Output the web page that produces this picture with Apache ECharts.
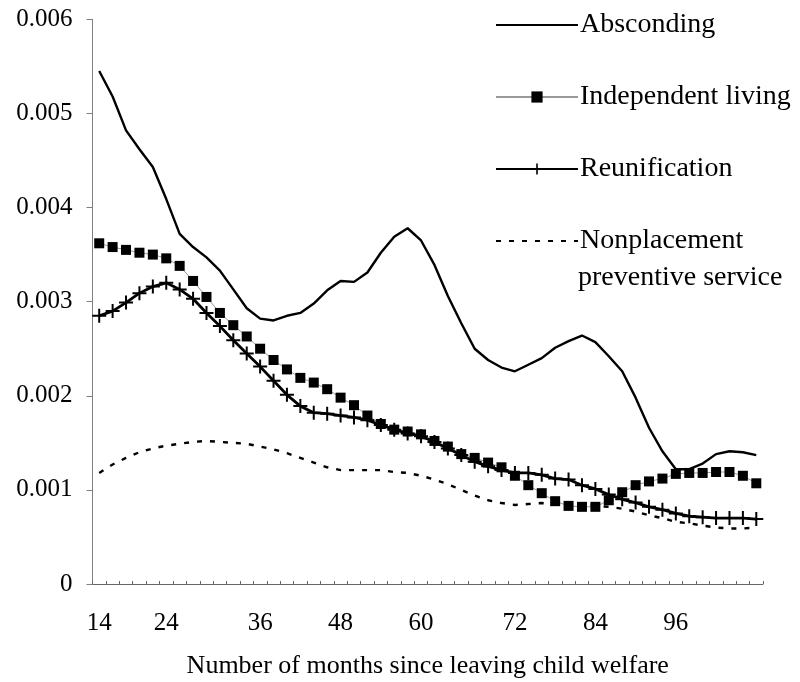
<!DOCTYPE html>
<html>
<head>
<meta charset="utf-8">
<script src="https://cdn.jsdelivr.net/npm/echarts@6/dist/echarts.min.js"></script>
<style>html,body{margin:0;padding:0;background:#fff;}#c{width:800px;height:682px;}</style>
</head>
<body>
<div id="c"></div>
<script>
// x tick labels (one slot per data point; blank = no label)
const xLabels = ['14','','','','','24','','','','','','','36','','','','','','48','','','','','','60','','','','','','','72','','','','','','84','','','','','','96','','','','','',''];
const categories = xLabels.map((_, i) => 'p' + i);

const absconding = [0.00545,0.00518,0.00482,0.00462,0.00443,0.00409,0.00372,0.00358,0.00347,0.00333,
  0.00313,0.00293,0.00282,0.00280,0.00285,0.00288,0.00298,0.00312,0.00322,0.00321,
  0.00331,0.00352,0.00369,0.00378,0.00365,0.00339,0.00306,0.00277,0.00250,0.00238,
  0.00230,0.00226,0.00233,0.00240,0.00251,0.00258,0.00264,0.00257,0.00242,0.00226,
  0.00198,0.00166,0.00141,0.00122,0.00122,0.00128,0.00138,0.00141,0.00140,0.00137];

const independent = [0.00362,0.00358,0.00355,0.00352,0.00350,0.00346,0.00338,0.00322,0.00305,0.00288,
  0.00275,0.00263,0.00250,0.00238,0.00228,0.00219,0.00214,0.00207,0.00198,0.00190,
  0.00179,0.00170,0.00164,0.00162,0.00159,0.00152,0.00146,0.00138,0.00134,0.00129,
  0.00124,0.00115,0.00105,0.000965,0.00088,0.00083,0.00082,0.00082,0.00089,0.000975,
  0.00105,0.00109,0.00112,0.00117,0.00118,0.00118,0.00119,0.00119,0.00115,0.00107];

const reunification = [0.00285,0.00290,0.00299,0.00309,0.00316,0.00320,0.00313,0.00303,0.00288,0.00274,
  0.00259,0.00245,0.00231,0.00216,0.00201,0.00189,0.00182,0.00181,0.00179,0.00177,
  0.00174,0.00169,0.00164,0.00160,0.00157,0.00151,0.00144,0.00137,0.00130,0.00125,
  0.00121,0.00118,0.00118,0.00116,0.00112,0.00111,0.00105,0.00101,0.00095,0.00090,
  0.000865,0.00082,0.00079,0.00075,0.00072,0.00071,0.00070,0.00070,0.00070,0.00069];

const nonplacement = [0.00118,0.00127,0.00134,0.00140,0.00144,0.00147,0.00149,0.00151,0.00152,0.00151,
  0.00150,0.00149,0.00146,0.00143,0.00139,0.00134,0.00129,0.00124,0.00121,0.00121,
  0.00121,0.00121,0.00119,0.00118,0.00115,0.00111,0.00106,0.00100,0.00094,0.00089,
  0.00086,0.00084,0.00085,0.00086,0.00085,0.00084,0.00084,0.00083,0.00082,0.00080,
  0.00077,0.00073,0.00070,0.00066,0.000645,0.00062,0.00060,0.00059,0.00059,0.00060];

const FONT = 'Liberation Serif';
const plusPath = 'path://M6,0H8V6H14V8H8V14H6V8H0V6H6Z';

const chart = echarts.init(document.getElementById('c'));
chart.setOption({
  animation: false,
  backgroundColor: '#fff',
  textStyle: { fontFamily: FONT, color: '#000' },
  grid: { left: 92.5, right: 37, top: 19.3, bottom: 98, containLabel: false, outerBoundsMode: 'none' },
  legend: {
    orient: 'vertical',
    left: 490,
    top: 6,
    itemWidth: 82,
    itemHeight: 14,
    itemGap: 44,
    textStyle: { fontFamily: FONT, fontSize: 28, color: '#000', padding: [0, 0, 0, -3] },
    formatter: function (name) { return name === 'Nonplacement preventive service' ? 'Nonplacement' : name; },
    data: [
      { name: 'Absconding', itemStyle: { opacity: 0 } },
      { name: 'Independent living' },
      { name: 'Reunification' },
      { name: 'Nonplacement preventive service', itemStyle: { opacity: 0 } }
    ]
  },
  graphic: [{
    type: 'text', left: 578, top: 264,
    style: { text: 'preventive service', font: '28px "Liberation Serif"', fill: '#000' }
  }],
  xAxis: {
    type: 'category',
    data: categories,
    boundaryGap: true,
    name: 'Number of months since leaving child welfare',
    nameLocation: 'middle',
    nameGap: 69,
    nameTextStyle: { fontFamily: FONT, fontSize: 26, color: '#000' },
    axisLine: { lineStyle: { color: '#666', width: 1 } },
    axisTick: { show: true, inside: true, length: 3, interval: 0, lineStyle: { color: '#666' } },
    axisLabel: {
      interval: 0, margin: 27, fontFamily: FONT, fontSize: 25, color: '#000',
      formatter: function (v, i) { return xLabels[i]; }
    },
    splitLine: { show: false }
  },
  yAxis: {
    type: 'value',
    min: 0, max: 0.006, interval: 0.001,
    axisLine: { show: true, lineStyle: { color: '#808080', width: 1 } },
    axisTick: { show: true, inside: false, length: 6, lineStyle: { color: '#808080' } },
    axisLabel: {
      margin: 20, fontFamily: FONT, fontSize: 25, color: '#000',
      formatter: function (v) { return v === 0 ? '0' : v.toFixed(3); }
    },
    splitLine: { show: false }
  },
  series: [
    {
      name: 'Absconding', type: 'line', data: absconding,
      symbol: 'none', lineStyle: { color: '#000', width: 2.4 }, itemStyle: { color: '#000' }, z: 3
    },
    {
      name: 'Independent living', type: 'line', data: independent,
      symbol: 'rect', symbolSize: 10, showAllSymbol: true,
      lineStyle: { color: '#999', width: 1 }, itemStyle: { color: '#000' }, z: 4
    },
    {
      name: 'Reunification', type: 'line', data: reunification,
      symbol: plusPath, symbolSize: 14, showAllSymbol: true,
      lineStyle: { color: '#000', width: 2.8 }, itemStyle: { color: '#000' }, z: 5
    },
    {
      name: 'Nonplacement preventive service', type: 'line', data: nonplacement,
      symbol: 'none', lineStyle: { color: '#000', width: 2.4, type: [5, 8] }, itemStyle: { color: '#000' }, z: 2
    }
  ]
});
</script>
</body>
</html>
